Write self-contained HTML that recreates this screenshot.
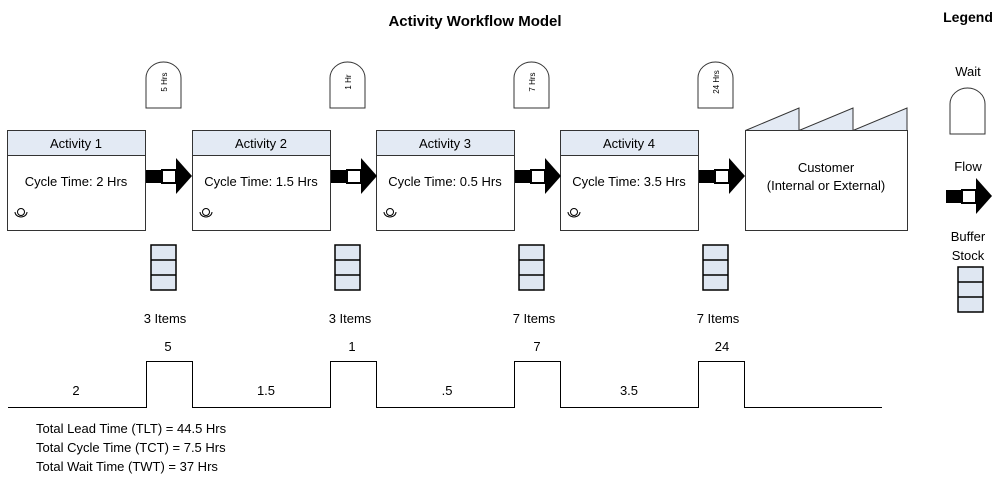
<!DOCTYPE html>
<html><head><meta charset="utf-8"><style>
body{margin:0;background:#fff;width:1006px;height:482px;overflow:hidden}
svg text{font-family:"Liberation Sans",sans-serif;fill:#000}
</style></head><body>
<svg width="1006" height="482" viewBox="0 0 1006 482" xmlns="http://www.w3.org/2000/svg">
<defs>
<g id="wait"><path d="M0,46 V16 A17.5,16 0 0 1 35,16 V46 Z" fill="#fff" stroke="#333" stroke-width="1"/></g>
<g id="flow"><rect x="0" y="12" width="16" height="13" fill="#000"/><rect x="16" y="12" width="14" height="13" fill="#fff" stroke="#000" stroke-width="2"/><path d="M30,0 L46,18 L30,36 Z" fill="#000"/></g>
<g id="buf"><rect x="0" y="0" width="25" height="45" fill="#dfe7f2" stroke="#000" stroke-width="1.5"/><line x1="0" y1="15" x2="25" y2="15" stroke="#000" stroke-width="1.5"/><line x1="0" y1="30" x2="25" y2="30" stroke="#000" stroke-width="1.5"/></g>
<g id="op"><path d="M-6,-3 A6,5 0 0 0 6,-3" fill="none" stroke="#000"/><circle cx="0" cy="-3" r="3.5" fill="none" stroke="#000"/></g>
</defs>
<text x="475" y="26" font-size="15" font-weight="bold" text-anchor="middle">Activity Workflow Model</text>
<text x="968" y="22" font-size="14" font-weight="bold" text-anchor="middle">Legend</text>

<g font-size="13" text-anchor="middle">
<rect x="7.5" y="130.5" width="138" height="100" fill="#fff" stroke="#333"/><rect x="7.5" y="130.5" width="138" height="25" fill="#e3eaf4" stroke="#333"/>
<text x="76" y="148">Activity 1</text><text x="76" y="186">Cycle Time: 2 Hrs</text>
<rect x="192.5" y="130.5" width="138" height="100" fill="#fff" stroke="#333"/><rect x="192.5" y="130.5" width="138" height="25" fill="#e3eaf4" stroke="#333"/>
<text x="261" y="148">Activity 2</text><text x="261" y="186">Cycle Time: 1.5 Hrs</text>
<rect x="376.5" y="130.5" width="138" height="100" fill="#fff" stroke="#333"/><rect x="376.5" y="130.5" width="138" height="25" fill="#e3eaf4" stroke="#333"/>
<text x="445" y="148">Activity 3</text><text x="445" y="186">Cycle Time: 0.5 Hrs</text>
<rect x="560.5" y="130.5" width="138" height="100" fill="#fff" stroke="#333"/><rect x="560.5" y="130.5" width="138" height="25" fill="#e3eaf4" stroke="#333"/>
<text x="629" y="148">Activity 4</text><text x="629" y="186">Cycle Time: 3.5 Hrs</text>
</g>
<use href="#op" x="21" y="215"/><use href="#op" x="206" y="215"/><use href="#op" x="390" y="215"/><use href="#op" x="574" y="215"/>

<path d="M745.5,130.5 L799,108 V130.5 Z M799,130.5 L853,108 V130.5 Z M853,130.5 L907,108 V130.5 Z" fill="#e3eaf4" stroke="#333"/>
<rect x="745.5" y="130.5" width="162" height="100" fill="#fff" stroke="#333"/>
<text x="826" y="172" font-size="13" text-anchor="middle">Customer</text>
<text x="826" y="190" font-size="13" text-anchor="middle">(Internal or External)</text>

<use href="#flow" x="146" y="158"/><use href="#flow" x="331" y="158"/><use href="#flow" x="515" y="158"/><use href="#flow" x="699" y="158"/>

<use href="#wait" x="146" y="62"/><use href="#wait" x="330" y="62"/><use href="#wait" x="514" y="62"/><use href="#wait" x="698" y="62"/>
<g font-size="8" text-anchor="middle">
<text transform="translate(167,82) rotate(-90)">5 Hrs</text>
<text transform="translate(351,82) rotate(-90)">1 Hr</text>
<text transform="translate(535,82) rotate(-90)">7 Hrs</text>
<text transform="translate(719,82) rotate(-90)">24 Hrs</text>
</g>

<use href="#buf" x="151" y="245"/><use href="#buf" x="335" y="245"/><use href="#buf" x="519" y="245"/><use href="#buf" x="703" y="245"/>
<g font-size="13" text-anchor="middle">
<text x="165" y="323">3 Items</text><text x="350" y="323">3 Items</text><text x="534" y="323">7 Items</text><text x="718" y="323">7 Items</text>
</g>

<path d="M8,407.5 H146.5 V361.5 H192.5 V407.5 H330.5 V361.5 H376.5 V407.5 H514.5 V361.5 H560.5 V407.5 H698.5 V361.5 H744.5 V407.5 H882" fill="none" stroke="#000"/>
<g font-size="13" text-anchor="middle">
<text x="76" y="395">2</text><text x="168" y="351">5</text>
<text x="266" y="395">1.5</text><text x="352" y="351">1</text>
<text x="447" y="395">.5</text><text x="537" y="351">7</text>
<text x="629" y="395">3.5</text><text x="722" y="351">24</text>
</g>
<g font-size="13">
<text x="36" y="433">Total Lead Time (TLT) = 44.5 Hrs</text>
<text x="36" y="452">Total Cycle Time (TCT) = 7.5 Hrs</text>
<text x="36" y="471">Total Wait Time (TWT) = 37 Hrs</text>
</g>

<g font-size="13" text-anchor="middle">
<text x="968" y="76">Wait</text>
<text x="968" y="171">Flow</text>
<text x="968" y="241">Buffer</text>
<text x="968" y="260">Stock</text>
</g>
<use href="#wait" x="950" y="88"/>
<use href="#flow" x="946" y="178"/>
<use href="#buf" x="958" y="267"/>
</svg>
</body></html>
